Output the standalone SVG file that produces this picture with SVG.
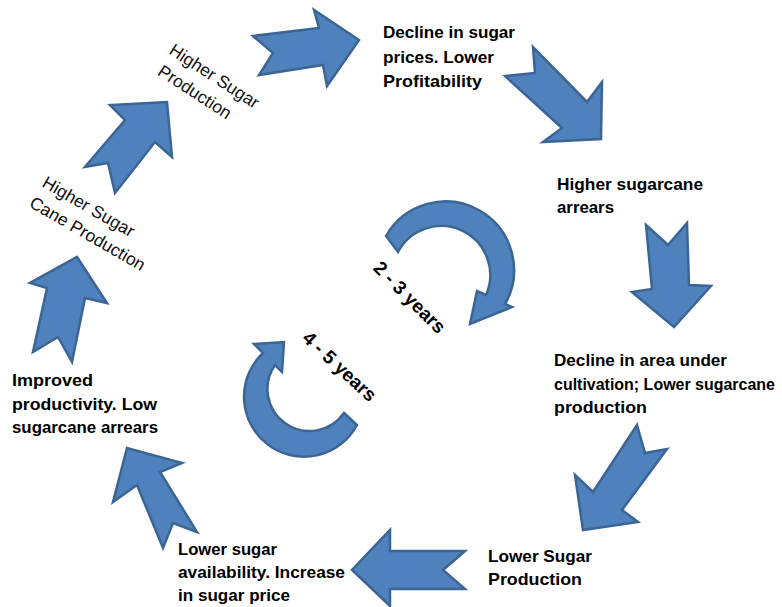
<svg xmlns="http://www.w3.org/2000/svg" width="782" height="607" viewBox="0 0 782 607">
<style>
.ar{fill:#4F81BD;stroke:#3A6595;stroke-width:2.5;stroke-linejoin:miter}
.b{font-family:"Liberation Sans",Arial,sans-serif;font-weight:bold;font-size:17px;fill:#000}
.n{font-family:"Liberation Sans",Arial,sans-serif;font-size:17.5px;fill:#111}
.y{font-family:"Liberation Sans",Arial,sans-serif;font-weight:bold;font-size:19px;fill:#000;text-anchor:middle}
</style>
<rect width="782" height="607" fill="#fff"/>
<g id="connectors">
<polygon class="ar" points="253,36 273,53 259,75 323,65 327,86 359,40 314,10 319,28"/>
<polygon class="ar" points="505,76 535,73 533,47 587,102 602,82 601,139 543,142 562,128"/>
<polygon class="ar" points="646,225 668,245 687,223 689,285 711,286 674,327 632,292 652,289"/>
<polygon class="ar" points="637,425 645,453 667,449 622,510 638,522 583,530 575,475 593,492"/>
<polygon class="ar" points="465,551 443,570 465,589 390,589 390,606 352,570 390,530 390,551"/>
<polygon class="ar" points="197,532 173,523 163,548 137,485 113,502 127,448 182,463 160,472"/>
<polygon class="ar" points="72,362 58,337 33,352 47,288 30,283 77,257 107,303 85,298"/>
<polygon class="ar" points="115,193 108,163 85,167 125,120 110,105 167,102 172,157 155,142"/>
<path class="ar" d="M386,236 A68,68 0 0 1 505,304 L512,307 L470,324 L477,291 L486,295 A49,49 0 0 0 398,252 Z"/>
<path class="ar" d="M357,425 A60,60 0 1 1 263,353 L254,344 L284,342 L282,372 L275,365 A42,42 0 1 0 344,413 Z"/>
</g>
<g id="node-decline-prices">
<text class="b" x="383" y="38" textLength="132" lengthAdjust="spacingAndGlyphs">Decline in sugar</text>
<text class="b" x="383" y="63" textLength="111" lengthAdjust="spacingAndGlyphs">prices. Lower</text>
<text class="b" x="383" y="87" textLength="99" lengthAdjust="spacingAndGlyphs">Profitability</text>
</g>
<g id="node-arrears">
<text class="b" x="557" y="190" textLength="146" lengthAdjust="spacingAndGlyphs">Higher sugarcane</text>
<text class="b" x="557" y="213" textLength="57" lengthAdjust="spacingAndGlyphs">arrears</text>
</g>
<g id="node-decline-area">
<text class="b" x="554" y="366" textLength="173" lengthAdjust="spacingAndGlyphs">Decline in area under</text>
<text class="b" x="554" y="390" style="font-size:16px" textLength="221" lengthAdjust="spacingAndGlyphs">cultivation; Lower sugarcane</text>
<text class="b" x="554" y="413" textLength="93" lengthAdjust="spacingAndGlyphs">production</text>
</g>
<g id="node-lower-production">
<text class="b" x="488" y="562" textLength="104" lengthAdjust="spacingAndGlyphs">Lower Sugar</text>
<text class="b" x="488" y="585" textLength="94" lengthAdjust="spacingAndGlyphs">Production</text>
</g>
<g id="node-lower-availability">
<text class="b" x="178" y="555" textLength="99" lengthAdjust="spacingAndGlyphs">Lower sugar</text>
<text class="b" x="178" y="578" textLength="167" lengthAdjust="spacingAndGlyphs">availability. Increase</text>
<text class="b" x="178" y="601" textLength="112" lengthAdjust="spacingAndGlyphs">in sugar price</text>
</g>
<g id="node-improved">
<text class="b" x="12" y="386" textLength="81" lengthAdjust="spacingAndGlyphs">Improved</text>
<text class="b" x="12" y="410" textLength="145" lengthAdjust="spacingAndGlyphs">productivity. Low</text>
<text class="b" x="12" y="433" textLength="146" lengthAdjust="spacingAndGlyphs">sugarcane arrears</text>
</g>
<g id="node-cane-production" transform="translate(41,186) rotate(30)">
<text class="n" x="0" y="0">Higher Sugar</text>
<text class="n" x="-1" y="24">Cane Production</text>
</g>
<g id="node-sugar-production" transform="translate(168,53) rotate(33)">
<text class="n" x="0" y="0">Higher Sugar</text>
<text class="n" x="2" y="24">Production</text>
</g>
<g id="label-2-3">
<text class="y" transform="translate(410,297) rotate(45)" y="7">2 - 3 years</text>
</g>
<g id="label-4-5">
<text class="y" transform="translate(340,366) rotate(43)" y="7">4 - 5 years</text>
</g>
</svg>
